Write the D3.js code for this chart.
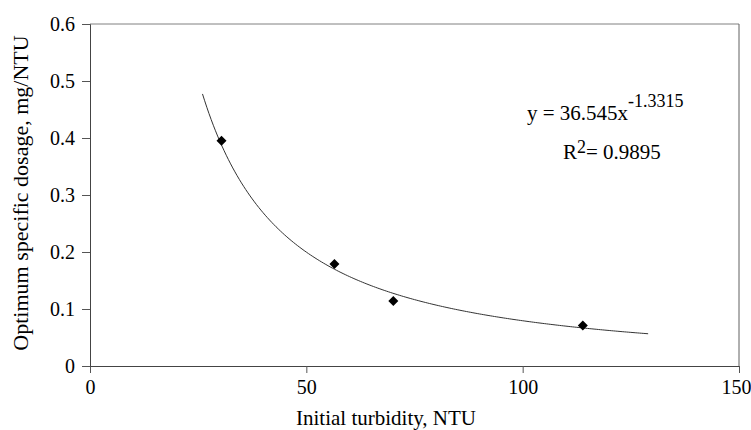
<!DOCTYPE html>
<html><head><meta charset="utf-8">
<script src="https://cdn.jsdelivr.net/npm/d3@7"></script>
<style>body{margin:0;background:#fff}svg{display:block}</style>
</head><body><svg id="c" width="751" height="430"></svg>
<script>
const turbidity = [30.4, 56.5, 70.1, 113.9];
const dosage = [0.395, 0.179, 0.114, 0.071];
const xTicks = [0, 50, 100, 150];
const yTicks = [0, 0.1, 0.2, 0.3, 0.4, 0.5, 0.6];
const fitCoef = [36.545, -1.3315];
const fitRange = [26.0, 129];
const xTitle = "Initial turbidity, NTU";
const yTitle = "Optimum specific dosage, mg/NTU";

const FONT = "Liberation Serif, Times New Roman, Times, serif";
const svg = d3.select("#c").attr("font-family", FONT);
const m = {l: 90, r: 12, t: 24, b: 64};
const W = 751 - m.l - m.r, H = 430 - m.t - m.b;
const x = d3.scaleLinear().domain([0,150]).range([m.l, m.l + W]);
const y = d3.scaleLinear().domain([0,0.6]).range([m.t + H, m.t]);

svg.append("line").attr("x1", x(0)).attr("x2", x(150)).attr("y1", y(0.6)).attr("y2", y(0.6)).attr("stroke", "#808080");
svg.append("line").attr("x1", x(150)).attr("x2", x(150)).attr("y1", y(0.6)).attr("y2", y(0)).attr("stroke", "#606060");

const gx = svg.append("g").attr("transform", `translate(0,${y(0)})`)
  .call(d3.axisBottom(x).tickValues(xTicks).tickSize(7).tickPadding(7).tickFormat(d3.format("d")));
const gy = svg.append("g").attr("transform", `translate(${x(0)},0)`)
  .call(d3.axisLeft(y).tickValues(yTicks).tickSize(8).tickPadding(7).tickFormat(d => d === 0 ? "0" : d3.format(".1f")(d)));
[gx, gy].forEach(g => {
  g.attr("font-family", FONT).attr("font-size", 20);
  g.select(".domain").attr("stroke", "#444");
  g.selectAll(".tick line").attr("stroke", "#555");
  g.selectAll("text").attr("fill", "#000");
});
gx.selectAll(".tick text").filter(d => d === 150).attr("dx", -3);

const xs = d3.range(fitRange[0], fitRange[1] + 0.01, 0.5);
const line = d3.line().x(d => x(d)).y(d => y(fitCoef[0] * Math.pow(d, fitCoef[1]))).curve(d3.curveMonotoneX);
svg.append("path").attr("d", line(xs)).attr("fill", "none").attr("stroke", "#333").attr("stroke-width", 1);

svg.selectAll(".pt").data(turbidity).join("path")
  .attr("d", d3.symbol(d3.symbolSquare, 50)())
  .attr("transform", (d, i) => `translate(${x(d)},${y(dosage[i])}) rotate(45)`)
  .attr("fill", "#000");

const eq = svg.append("text").attr("x", 527).attr("y", 120).attr("font-size", 21);
eq.append("tspan").text("y = 36.545x");
eq.append("tspan").attr("dy", -13).attr("font-size", 18).text("-1.3315");
const r2 = svg.append("text").attr("x", 563).attr("y", 159).attr("font-size", 21);
r2.append("tspan").text("R");
r2.append("tspan").attr("dy", -6).attr("font-size", 18).text("2");
r2.append("tspan").attr("dy", 6).text("= 0.9895");

svg.append("text").attr("x", 386).attr("y", 425).attr("text-anchor", "middle").attr("font-size", 21).text(xTitle);
svg.append("text").attr("transform", `translate(28,193) rotate(-90)`).attr("text-anchor", "middle").attr("font-size", 22).text(yTitle);
</script></body></html>
